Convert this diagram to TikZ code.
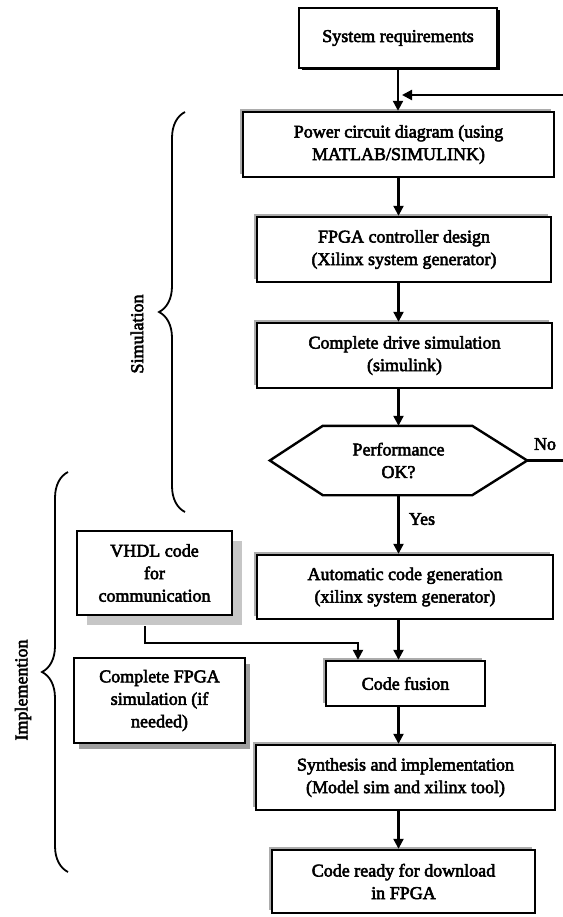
\documentclass[tikz,border=0pt]{standalone}
\usepackage{fontspec}
\setmainfont{Liberation Serif}
\newfontfamily\heavyserif{Liberation Serif}[FakeBold=3]
\usetikzlibrary{arrows.meta,shadows,decorations.pathreplacing,calc}
\begin{document}
\begin{tikzpicture}[x=1pt,y=-1pt,
  font=\heavyserif\fontsize{18}{22.5}\selectfont,
  box/.style={draw, line width=2.4pt, fill=white, align=center, inner sep=0pt},
  mainbox/.style={box, drop shadow={shadow xshift=-3pt, shadow yshift=3pt, fill=gray!65, opacity=1}},
  arr/.style={line width=2.2pt, -{Triangle[length=10pt,width=10pt]}},
  brc/.style={line width=1.8pt, decorate, decoration={brace, amplitude=26pt}},
  lbl/.style={inner sep=0pt}]
\useasboundingbox (0,0) rectangle (562,917);

% main column
\node[box, drop shadow={shadow xshift=2.5pt, shadow yshift=-2.5pt, fill=black, opacity=1},
      minimum width=198pt, minimum height=60pt] (sysreq) at (398,38) {System requirements};
\node[mainbox, minimum width=311pt, minimum height=65pt] (power) at (398.5,144.5) {Power circuit diagram (using\\MATLAB/SIMULINK)};
\node[mainbox, minimum width=294pt, minimum height=65pt] (fpgactl) at (404,249.5) {FPGA controller design\\(Xilinx system generator)};
\node[mainbox, minimum width=295pt, minimum height=65pt] (drivesim) at (404.5,355.5) {Complete drive simulation\\(simulink)};
\node[align=center, inner sep=0pt, minimum width=257pt, minimum height=69pt] (perf) at (398.5,460.5) {Performance\\OK?};
\draw[line width=2.4pt] (perf.west) -- ($(perf.north west)+(53,0)$) -- ($(perf.north east)+(-55,0)$)
  -- (perf.east) -- ($(perf.south east)+(-55,0)$) -- ($(perf.south west)+(53,0)$) -- cycle;
\node[mainbox, minimum width=296pt, minimum height=64pt] (autocode) at (405,587) {Automatic code generation\\(xilinx system generator)};
\node[mainbox, minimum width=159pt, minimum height=45pt] (fusion) at (405.5,683.5) {Code fusion};
\node[mainbox, minimum width=299pt, minimum height=65pt] (synth) at (405.5,777.5) {Synthesis and implementation\\(Model sim and xilinx tool)};
\node[mainbox, minimum width=263pt, minimum height=63pt] (ready) at (403.5,881.5) {Code ready for download\\in FPGA};

% side boxes
\node[box, drop shadow={shadow xshift=10pt, shadow yshift=-10pt, fill=gray!45, opacity=1},
      minimum width=155pt, minimum height=84pt] (vhdl) at (154.5,573) {VHDL code\\for\\communication};
\node[box, drop shadow={shadow xshift=5pt, shadow yshift=-6pt, fill=gray!75, opacity=1},
      minimum width=171pt, minimum height=85pt] (cfpga) at (159.5,700.5) {Complete FPGA\\simulation (if\\needed)};

% connectors
\coordinate (fbend) at (402,95);
\draw[arr] (sysreq.south) -- (sysreq.south |- power.north);
\draw[arr] (power.south) -- (power.south |- fpgactl.north);
\draw[arr] (power.south |- fpgactl.south) -- (power.south |- drivesim.north);
\draw[arr] (perf.north |- drivesim.south) -- (perf.north);
\draw[arr] (perf.south) -- (perf.south |- autocode.north);
\draw[arr] (perf.south |- autocode.south) -- (perf.south |- fusion.north);
\draw[arr] ([shift={(-9.5,10)}]vhdl.south) -- ++(0,17) -| ([xshift=-47.5pt]fusion.north);
\draw[arr] (perf.south |- fusion.south) -- (perf.south |- synth.north);
\draw[arr] (perf.south |- synth.south) -- (perf.south |- ready.north);
\draw[arr] (perf.east) -- ++(40,0) |- (fbend);

\node[lbl] (no) at (545,444) {No};
\node[lbl] (yes) at (422,519) {Yes};

% braces
\draw[brc] (185,512) -- (185,112);
\draw[brc] (68,872) -- (68,472);
\node[lbl, rotate=90] (simlbl) at (137,334) {Simulation};
\node[lbl, rotate=90] (implbl) at (23,690) {Implemention};
\end{tikzpicture}
\end{document}
